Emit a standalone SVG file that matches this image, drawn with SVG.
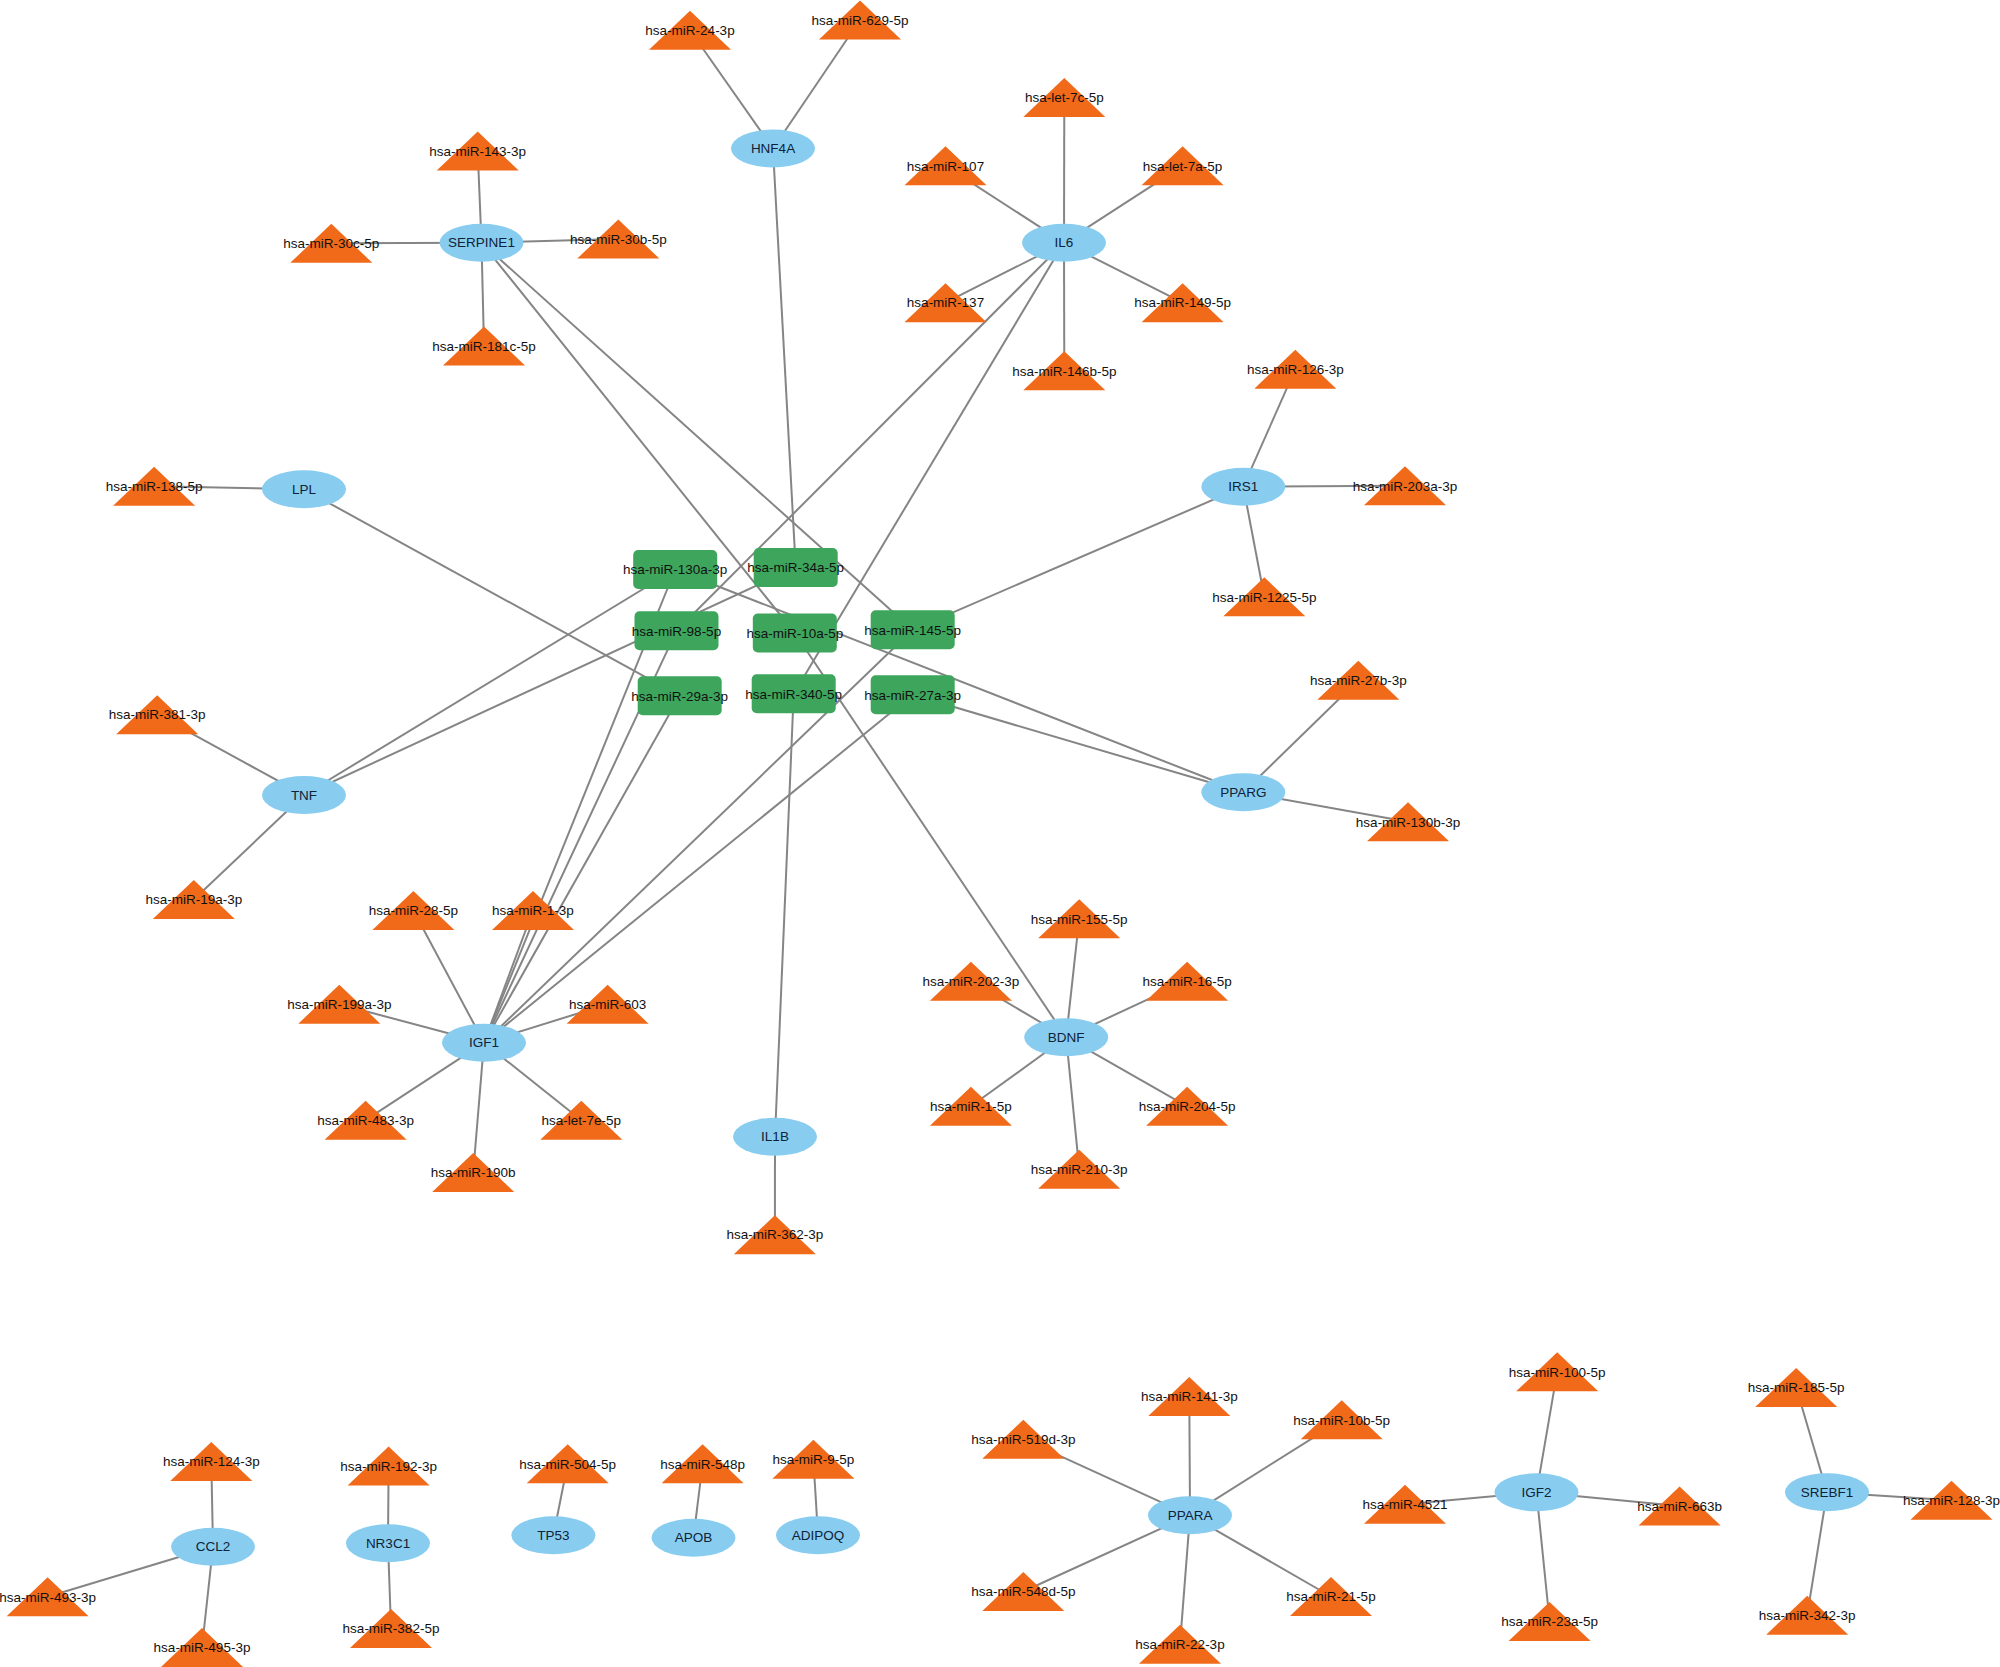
<svg xmlns="http://www.w3.org/2000/svg" xmlns:xlink="http://www.w3.org/1999/xlink" width="2000" height="1667" viewBox="0 0 2000 1667">
<style>
.bg{fill:#ffffff}
#edges line{stroke:#858585;stroke-width:2;fill:none}
.gene use{fill:#88CDF0}
.hub use{fill:#3DA65C}
.mir use{fill:#F06A1A}
text{font-family:"Liberation Sans",Arial,sans-serif;font-size:13.5px;text-anchor:middle;fill:#111}
.gene text{fill:#0f2236}
</style>
<defs>
<ellipse id="ell" cx="0" cy="0" rx="42" ry="19"/>
<rect id="box" x="-42" y="-19.5" width="84" height="39" rx="5" ry="5"/>
<polygon id="tri" points="0,-19.5 41,19.5 -41,19.5"/>
</defs>
<rect class="bg" x="0" y="0" width="2000" height="1667"/>
<g id="edges">
<!-- HNF4A -->
<line x1="773" y1="148.5" x2="690" y2="30.2"/>
<line x1="773" y1="148.5" x2="860" y2="20"/>
<line x1="773" y1="148.5" x2="795.7" y2="567.5"/>
<!-- SERPINE1 -->
<line x1="481.5" y1="242.7" x2="477.7" y2="151"/>
<line x1="481.5" y1="242.7" x2="331.3" y2="243.3"/>
<line x1="481.5" y1="242.7" x2="618.3" y2="239"/>
<line x1="481.5" y1="242.7" x2="484" y2="346"/>
<line x1="481.5" y1="242.7" x2="794.8" y2="633"/>
<line x1="481.5" y1="242.7" x2="912.7" y2="629.8"/>
<!-- IL6 -->
<line x1="1064" y1="242.7" x2="1064.3" y2="97.5"/>
<line x1="1064" y1="242.7" x2="945.5" y2="165.8"/>
<line x1="1064" y1="242.7" x2="1182.6" y2="165.8"/>
<line x1="1064" y1="242.7" x2="945.5" y2="302.7"/>
<line x1="1064" y1="242.7" x2="1182.6" y2="302.7"/>
<line x1="1064" y1="242.7" x2="1064.3" y2="370.8"/>
<line x1="1064" y1="242.7" x2="676.5" y2="630.8"/>
<line x1="1064" y1="242.7" x2="793.7" y2="693.8"/>
<!-- LPL -->
<line x1="304" y1="489.3" x2="154.1" y2="486.2"/>
<line x1="304" y1="489.3" x2="679.7" y2="695.8"/>
<!-- IRS1 -->
<line x1="1243.3" y1="486.7" x2="1295.3" y2="369.2"/>
<line x1="1243.3" y1="486.7" x2="1405" y2="485.8"/>
<line x1="1243.3" y1="486.7" x2="1264.3" y2="596.8"/>
<line x1="1243.3" y1="486.7" x2="912.7" y2="629.8"/>
<!-- TNF -->
<line x1="304" y1="795" x2="157.2" y2="714.7"/>
<line x1="304" y1="795" x2="193.8" y2="899.5"/>
<line x1="304" y1="795" x2="675.2" y2="569.5"/>
<line x1="304" y1="795" x2="795.7" y2="567.5"/>
<!-- PPARG -->
<line x1="1243.3" y1="792.3" x2="1358.3" y2="680.2"/>
<line x1="1243.3" y1="792.3" x2="1408" y2="821.8"/>
<line x1="1243.3" y1="792.3" x2="675.2" y2="569.5"/>
<line x1="1243.3" y1="792.3" x2="912.7" y2="694.8"/>
<!-- IGF1 -->
<line x1="484" y1="1042.7" x2="413.4" y2="910.5"/>
<line x1="484" y1="1042.7" x2="533" y2="910.5"/>
<line x1="484" y1="1042.7" x2="339.3" y2="1004.2"/>
<line x1="484" y1="1042.7" x2="607.6" y2="1004.2"/>
<line x1="484" y1="1042.7" x2="365.6" y2="1120.2"/>
<line x1="484" y1="1042.7" x2="581.3" y2="1120.2"/>
<line x1="484" y1="1042.7" x2="473.2" y2="1172.5"/>
<line x1="484" y1="1042.7" x2="675.2" y2="569.5"/>
<line x1="484" y1="1042.7" x2="676.5" y2="630.8"/>
<line x1="484" y1="1042.7" x2="679.7" y2="695.8"/>
<line x1="484" y1="1042.7" x2="912.7" y2="629.8"/>
<line x1="484" y1="1042.7" x2="912.7" y2="694.8"/>
<!-- BDNF -->
<line x1="1066.2" y1="1037.3" x2="1079.2" y2="918.8"/>
<line x1="1066.2" y1="1037.3" x2="970.9" y2="981.2"/>
<line x1="1066.2" y1="1037.3" x2="1187.1" y2="981.2"/>
<line x1="1066.2" y1="1037.3" x2="970.9" y2="1106.3"/>
<line x1="1066.2" y1="1037.3" x2="1187.1" y2="1106.3"/>
<line x1="1066.2" y1="1037.3" x2="1079.2" y2="1169.2"/>
<line x1="1066.2" y1="1037.3" x2="794.8" y2="633"/>
<!-- IL1B -->
<line x1="775" y1="1136.7" x2="774.9" y2="1234.7"/>
<line x1="775" y1="1136.7" x2="793.7" y2="693.8"/>
<!-- CCL2 -->
<line x1="213" y1="1546.7" x2="211.3" y2="1461.5"/>
<line x1="213" y1="1546.7" x2="47.6" y2="1596.8"/>
<line x1="213" y1="1546.7" x2="202" y2="1647.5"/>
<!-- NR3C1 -->
<line x1="388" y1="1543.3" x2="388.6" y2="1466"/>
<line x1="388" y1="1543.3" x2="391" y2="1628.5"/>
<!-- TP53, APOB, ADIPOQ -->
<line x1="553.4" y1="1535.3" x2="567.7" y2="1463.8"/>
<line x1="693.5" y1="1537.7" x2="702.6" y2="1463.8"/>
<line x1="818" y1="1535.3" x2="813.4" y2="1459.3"/>
<!-- PPARA -->
<line x1="1190" y1="1515.3" x2="1189.3" y2="1396.5"/>
<line x1="1190" y1="1515.3" x2="1023.3" y2="1439.2"/>
<line x1="1190" y1="1515.3" x2="1341.7" y2="1419.8"/>
<line x1="1190" y1="1515.3" x2="1023.3" y2="1591.5"/>
<line x1="1190" y1="1515.3" x2="1331" y2="1596.5"/>
<line x1="1190" y1="1515.3" x2="1180" y2="1644.2"/>
<!-- IGF2 -->
<line x1="1536.5" y1="1492.3" x2="1557.2" y2="1371.8"/>
<line x1="1536.5" y1="1492.3" x2="1405" y2="1504.2"/>
<line x1="1536.5" y1="1492.3" x2="1679.6" y2="1506"/>
<line x1="1536.5" y1="1492.3" x2="1549.6" y2="1621.5"/>
<!-- SREBF1 -->
<line x1="1827" y1="1492.3" x2="1796.2" y2="1387.5"/>
<line x1="1827" y1="1492.3" x2="1951.5" y2="1500.3"/>
<line x1="1827" y1="1492.3" x2="1807.2" y2="1615.2"/>
</g>

<!-- gene nodes -->
<g id="n-HNF4A" class="gene" transform="translate(773,148.5)"><use href="#ell"/><text y="4.7">HNF4A</text></g>
<g id="n-SERPINE1" class="gene" transform="translate(481.5,242.7)"><use href="#ell"/><text y="4.7">SERPINE1</text></g>
<g id="n-IL6" class="gene" transform="translate(1064,242.7)"><use href="#ell"/><text y="4.7">IL6</text></g>
<g id="n-LPL" class="gene" transform="translate(304,489.3)"><use href="#ell"/><text y="4.7">LPL</text></g>
<g id="n-IRS1" class="gene" transform="translate(1243.3,486.7)"><use href="#ell"/><text y="4.7">IRS1</text></g>
<g id="n-TNF" class="gene" transform="translate(304,795)"><use href="#ell"/><text y="4.7">TNF</text></g>
<g id="n-PPARG" class="gene" transform="translate(1243.3,792.3)"><use href="#ell"/><text y="4.7">PPARG</text></g>
<g id="n-IGF1" class="gene" transform="translate(484,1042.7)"><use href="#ell"/><text y="4.7">IGF1</text></g>
<g id="n-BDNF" class="gene" transform="translate(1066.2,1037.3)"><use href="#ell"/><text y="4.7">BDNF</text></g>
<g id="n-IL1B" class="gene" transform="translate(775,1136.7)"><use href="#ell"/><text y="4.7">IL1B</text></g>
<g id="n-CCL2" class="gene" transform="translate(213,1546.7)"><use href="#ell"/><text y="4.7">CCL2</text></g>
<g id="n-NR3C1" class="gene" transform="translate(388,1543.3)"><use href="#ell"/><text y="4.7">NR3C1</text></g>
<g id="n-TP53" class="gene" transform="translate(553.4,1535.3)"><use href="#ell"/><text y="4.7">TP53</text></g>
<g id="n-APOB" class="gene" transform="translate(693.5,1537.7)"><use href="#ell"/><text y="4.7">APOB</text></g>
<g id="n-ADIPOQ" class="gene" transform="translate(818,1535.3)"><use href="#ell"/><text y="4.7">ADIPOQ</text></g>
<g id="n-PPARA" class="gene" transform="translate(1190,1515.3)"><use href="#ell"/><text y="4.7">PPARA</text></g>
<g id="n-IGF2" class="gene" transform="translate(1536.5,1492.3)"><use href="#ell"/><text y="4.7">IGF2</text></g>
<g id="n-SREBF1" class="gene" transform="translate(1827,1492.3)"><use href="#ell"/><text y="4.7">SREBF1</text></g>

<!-- hub miRNA nodes -->
<g id="n-hsa-miR-130a-3p" class="hub" transform="translate(675.2,569.5)"><use href="#box"/><text y="4.7">hsa-miR-130a-3p</text></g>
<g id="n-hsa-miR-34a-5p" class="hub" transform="translate(795.7,567.5)"><use href="#box"/><text y="4.7">hsa-miR-34a-5p</text></g>
<g id="n-hsa-miR-98-5p" class="hub" transform="translate(676.5,630.8)"><use href="#box"/><text y="4.7">hsa-miR-98-5p</text></g>
<g id="n-hsa-miR-10a-5p" class="hub" transform="translate(794.8,633)"><use href="#box"/><text y="4.7">hsa-miR-10a-5p</text></g>
<g id="n-hsa-miR-145-5p" class="hub" transform="translate(912.7,629.8)"><use href="#box"/><text y="4.7">hsa-miR-145-5p</text></g>
<g id="n-hsa-miR-29a-3p" class="hub" transform="translate(679.7,695.8)"><use href="#box"/><text y="4.7">hsa-miR-29a-3p</text></g>
<g id="n-hsa-miR-340-5p" class="hub" transform="translate(793.7,693.8)"><use href="#box"/><text y="4.7">hsa-miR-340-5p</text></g>
<g id="n-hsa-miR-27a-3p" class="hub" transform="translate(912.7,694.8)"><use href="#box"/><text y="4.7">hsa-miR-27a-3p</text></g>

<!-- peripheral miRNA nodes -->
<g id="n-hsa-miR-24-3p" class="mir" transform="translate(690,30.2)"><use href="#tri"/><text y="4.7">hsa-miR-24-3p</text></g>
<g id="n-hsa-miR-629-5p" class="mir" transform="translate(860,20)"><use href="#tri"/><text y="4.7">hsa-miR-629-5p</text></g>
<g id="n-hsa-miR-143-3p" class="mir" transform="translate(477.7,151)"><use href="#tri"/><text y="4.7">hsa-miR-143-3p</text></g>
<g id="n-hsa-miR-30c-5p" class="mir" transform="translate(331.3,243.3)"><use href="#tri"/><text y="4.7">hsa-miR-30c-5p</text></g>
<g id="n-hsa-miR-30b-5p" class="mir" transform="translate(618.3,239)"><use href="#tri"/><text y="4.7">hsa-miR-30b-5p</text></g>
<g id="n-hsa-miR-181c-5p" class="mir" transform="translate(484,346)"><use href="#tri"/><text y="4.7">hsa-miR-181c-5p</text></g>
<g id="n-hsa-let-7c-5p" class="mir" transform="translate(1064.3,97.5)"><use href="#tri"/><text y="4.7">hsa-let-7c-5p</text></g>
<g id="n-hsa-miR-107" class="mir" transform="translate(945.5,165.8)"><use href="#tri"/><text y="4.7">hsa-miR-107</text></g>
<g id="n-hsa-let-7a-5p" class="mir" transform="translate(1182.6,165.8)"><use href="#tri"/><text y="4.7">hsa-let-7a-5p</text></g>
<g id="n-hsa-miR-137" class="mir" transform="translate(945.5,302.7)"><use href="#tri"/><text y="4.7">hsa-miR-137</text></g>
<g id="n-hsa-miR-149-5p" class="mir" transform="translate(1182.6,302.7)"><use href="#tri"/><text y="4.7">hsa-miR-149-5p</text></g>
<g id="n-hsa-miR-146b-5p" class="mir" transform="translate(1064.3,370.8)"><use href="#tri"/><text y="4.7">hsa-miR-146b-5p</text></g>
<g id="n-hsa-miR-126-3p" class="mir" transform="translate(1295.3,369.2)"><use href="#tri"/><text y="4.7">hsa-miR-126-3p</text></g>
<g id="n-hsa-miR-203a-3p" class="mir" transform="translate(1405,485.8)"><use href="#tri"/><text y="4.7">hsa-miR-203a-3p</text></g>
<g id="n-hsa-miR-1225-5p" class="mir" transform="translate(1264.3,596.8)"><use href="#tri"/><text y="4.7">hsa-miR-1225-5p</text></g>
<g id="n-hsa-miR-27b-3p" class="mir" transform="translate(1358.3,680.2)"><use href="#tri"/><text y="4.7">hsa-miR-27b-3p</text></g>
<g id="n-hsa-miR-130b-3p" class="mir" transform="translate(1408,821.8)"><use href="#tri"/><text y="4.7">hsa-miR-130b-3p</text></g>
<g id="n-hsa-miR-138-5p" class="mir" transform="translate(154.1,486.2)"><use href="#tri"/><text y="4.7">hsa-miR-138-5p</text></g>
<g id="n-hsa-miR-381-3p" class="mir" transform="translate(157.2,714.7)"><use href="#tri"/><text y="4.7">hsa-miR-381-3p</text></g>
<g id="n-hsa-miR-19a-3p" class="mir" transform="translate(193.8,899.5)"><use href="#tri"/><text y="4.7">hsa-miR-19a-3p</text></g>
<g id="n-hsa-miR-28-5p" class="mir" transform="translate(413.4,910.5)"><use href="#tri"/><text y="4.7">hsa-miR-28-5p</text></g>
<g id="n-hsa-miR-1-3p" class="mir" transform="translate(533,910.5)"><use href="#tri"/><text y="4.7">hsa-miR-1-3p</text></g>
<g id="n-hsa-miR-199a-3p" class="mir" transform="translate(339.3,1004.2)"><use href="#tri"/><text y="4.7">hsa-miR-199a-3p</text></g>
<g id="n-hsa-miR-603" class="mir" transform="translate(607.6,1004.2)"><use href="#tri"/><text y="4.7">hsa-miR-603</text></g>
<g id="n-hsa-miR-483-3p" class="mir" transform="translate(365.6,1120.2)"><use href="#tri"/><text y="4.7">hsa-miR-483-3p</text></g>
<g id="n-hsa-let-7e-5p" class="mir" transform="translate(581.3,1120.2)"><use href="#tri"/><text y="4.7">hsa-let-7e-5p</text></g>
<g id="n-hsa-miR-190b" class="mir" transform="translate(473.2,1172.5)"><use href="#tri"/><text y="4.7">hsa-miR-190b</text></g>
<g id="n-hsa-miR-362-3p" class="mir" transform="translate(774.9,1234.7)"><use href="#tri"/><text y="4.7">hsa-miR-362-3p</text></g>
<g id="n-hsa-miR-155-5p" class="mir" transform="translate(1079.2,918.8)"><use href="#tri"/><text y="4.7">hsa-miR-155-5p</text></g>
<g id="n-hsa-miR-202-3p" class="mir" transform="translate(970.9,981.2)"><use href="#tri"/><text y="4.7">hsa-miR-202-3p</text></g>
<g id="n-hsa-miR-16-5p" class="mir" transform="translate(1187.1,981.2)"><use href="#tri"/><text y="4.7">hsa-miR-16-5p</text></g>
<g id="n-hsa-miR-1-5p" class="mir" transform="translate(970.9,1106.3)"><use href="#tri"/><text y="4.7">hsa-miR-1-5p</text></g>
<g id="n-hsa-miR-204-5p" class="mir" transform="translate(1187.1,1106.3)"><use href="#tri"/><text y="4.7">hsa-miR-204-5p</text></g>
<g id="n-hsa-miR-210-3p" class="mir" transform="translate(1079.2,1169.2)"><use href="#tri"/><text y="4.7">hsa-miR-210-3p</text></g>
<g id="n-hsa-miR-124-3p" class="mir" transform="translate(211.3,1461.5)"><use href="#tri"/><text y="4.7">hsa-miR-124-3p</text></g>
<g id="n-hsa-miR-493-3p" class="mir" transform="translate(47.6,1596.8)"><use href="#tri"/><text y="4.7">hsa-miR-493-3p</text></g>
<g id="n-hsa-miR-495-3p" class="mir" transform="translate(202,1647.5)"><use href="#tri"/><text y="4.7">hsa-miR-495-3p</text></g>
<g id="n-hsa-miR-192-3p" class="mir" transform="translate(388.6,1466)"><use href="#tri"/><text y="4.7">hsa-miR-192-3p</text></g>
<g id="n-hsa-miR-382-5p" class="mir" transform="translate(391,1628.5)"><use href="#tri"/><text y="4.7">hsa-miR-382-5p</text></g>
<g id="n-hsa-miR-504-5p" class="mir" transform="translate(567.7,1463.8)"><use href="#tri"/><text y="4.7">hsa-miR-504-5p</text></g>
<g id="n-hsa-miR-548p" class="mir" transform="translate(702.6,1463.8)"><use href="#tri"/><text y="4.7">hsa-miR-548p</text></g>
<g id="n-hsa-miR-9-5p" class="mir" transform="translate(813.4,1459.3)"><use href="#tri"/><text y="4.7">hsa-miR-9-5p</text></g>
<g id="n-hsa-miR-141-3p" class="mir" transform="translate(1189.3,1396.5)"><use href="#tri"/><text y="4.7">hsa-miR-141-3p</text></g>
<g id="n-hsa-miR-519d-3p" class="mir" transform="translate(1023.3,1439.2)"><use href="#tri"/><text y="4.7">hsa-miR-519d-3p</text></g>
<g id="n-hsa-miR-10b-5p" class="mir" transform="translate(1341.7,1419.8)"><use href="#tri"/><text y="4.7">hsa-miR-10b-5p</text></g>
<g id="n-hsa-miR-4521" class="mir" transform="translate(1405,1504.2)"><use href="#tri"/><text y="4.7">hsa-miR-4521</text></g>
<g id="n-hsa-miR-548d-5p" class="mir" transform="translate(1023.3,1591.5)"><use href="#tri"/><text y="4.7">hsa-miR-548d-5p</text></g>
<g id="n-hsa-miR-21-5p" class="mir" transform="translate(1331,1596.5)"><use href="#tri"/><text y="4.7">hsa-miR-21-5p</text></g>
<g id="n-hsa-miR-22-3p" class="mir" transform="translate(1180,1644.2)"><use href="#tri"/><text y="4.7">hsa-miR-22-3p</text></g>
<g id="n-hsa-miR-100-5p" class="mir" transform="translate(1557.2,1371.8)"><use href="#tri"/><text y="4.7">hsa-miR-100-5p</text></g>
<g id="n-hsa-miR-663b" class="mir" transform="translate(1679.6,1506)"><use href="#tri"/><text y="4.7">hsa-miR-663b</text></g>
<g id="n-hsa-miR-23a-5p" class="mir" transform="translate(1549.6,1621.5)"><use href="#tri"/><text y="4.7">hsa-miR-23a-5p</text></g>
<g id="n-hsa-miR-185-5p" class="mir" transform="translate(1796.2,1387.5)"><use href="#tri"/><text y="4.7">hsa-miR-185-5p</text></g>
<g id="n-hsa-miR-128-3p" class="mir" transform="translate(1951.5,1500.3)"><use href="#tri"/><text y="4.7">hsa-miR-128-3p</text></g>
<g id="n-hsa-miR-342-3p" class="mir" transform="translate(1807.2,1615.2)"><use href="#tri"/><text y="4.7">hsa-miR-342-3p</text></g>
</svg>
